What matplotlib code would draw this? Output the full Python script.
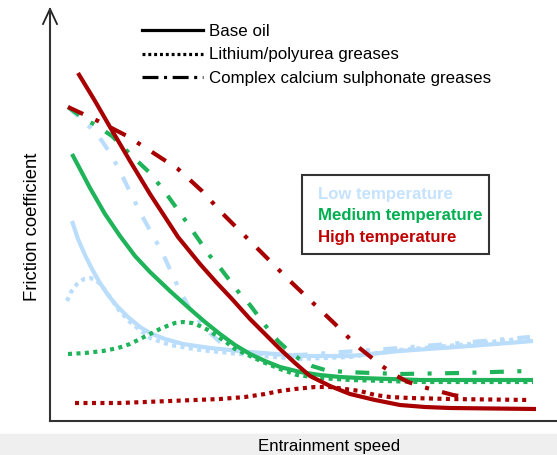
import matplotlib
matplotlib.use("Agg")
import matplotlib.pyplot as plt
from matplotlib.patches import Rectangle

plt.rcParams['font.family'] = ['Liberation Sans', 'DejaVu Sans']
plt.rcParams['lines.scale_dashes'] = False

# colours for the three temperatures
blue = '#b9ddfb'
green = '#1fb35a'
red = '#a80000'

# base oil (solid)
low_base_x = [22, 28, 35, 42, 50, 58, 67, 78, 90, 100, 115, 133, 160, 200, 250, 300, 350, 420, 483]
low_base_y = [200, 182, 166, 152, 138, 126, 115, 104, 94, 88, 82, 77, 73, 69, 65, 65, 70, 75, 80]
med_base_x = [22, 30, 40, 55, 70, 85, 100, 120, 140, 155, 170, 185, 200, 215, 230, 250, 270, 290,
              310, 370, 483]
med_base_y = [267, 252, 233, 207, 185, 165, 149, 130, 112, 99, 87, 76, 67, 60, 54, 49, 46, 44,
              43, 41, 41]
high_base_x = [28, 45, 60, 80, 100, 115, 128, 150, 166, 182, 200, 215, 230, 245, 260, 280, 300,
               325, 350, 375, 400, 486]
high_base_y = [348, 320, 294, 260, 227, 204, 184, 157, 139, 122, 102, 87, 72, 58, 45, 35, 27,
               21, 16, 14, 13, 12]

# lithium/polyurea greases (dotted)
low_li_x = [17, 21, 27, 34, 40, 46, 52, 60, 68, 80, 100, 120, 150, 200, 250, 300, 350, 420, 480]
low_li_y = [120, 129, 137, 142, 143, 141, 135, 124, 112, 99, 83, 76, 71, 66, 62, 64, 71, 77, 83]
med_li_x = [18, 35, 53, 68, 80, 90, 100, 110, 117, 125, 133, 142, 150, 158, 167, 176, 185, 200,
            213, 230, 247, 270, 300, 370, 483]
med_li_y = [67, 68, 70, 73, 77, 82, 87, 92, 95, 98, 99, 98, 95, 91, 85, 79, 72, 65,
            59, 52, 46, 43, 41, 39, 39]
high_li_x = [25, 70, 120, 170, 195, 215, 230, 245, 265, 280, 295, 310, 325, 340, 360, 400, 480]
high_li_y = [18, 18, 20, 22, 24, 27, 30, 32, 34, 34, 32, 30, 26, 24, 23, 22, 21]

# complex calcium sulphonate greases (dash-dot)
low_cx_x = [18, 30, 43, 52, 60, 70, 80, 91, 101, 113, 122, 130, 140, 150, 160, 170, 185, 210,
            250, 350, 480]
low_cx_y = [314, 303, 291, 280, 268, 250, 229, 207, 189, 167, 147, 130, 112, 99, 88, 79, 71, 67,
            66, 73, 84]
med_cx_x = [18, 33, 47, 62, 72, 83, 100, 115, 133, 142, 160, 171, 190, 200, 218, 228, 240, 252,
            262, 275, 295, 350, 410, 477]
med_cx_y = [314, 303, 295, 285, 275, 264, 248, 229, 204, 191, 165, 152, 127, 116, 92, 80, 69, 60,
            55, 51, 49, 47, 48, 50]
high_cx_x = [18, 48, 77, 102, 128, 152, 173, 195, 218, 240, 262, 285, 307, 332, 345, 358, 373,
             388, 403, 420]
high_cx_y = [314, 300, 285, 269, 252, 230, 207, 185, 162, 140, 119, 97, 75, 55, 46, 39, 34,
             30, 26, 23]

W, H = 557, 456
fig = plt.figure(figsize=(W / 100, H / 100), dpi=100)
fig.patches.append(Rectangle((0, 0), 1, 21 / H, transform=fig.transFigure,
                             color='#efefef', zorder=0))

ax = fig.add_axes([50 / W, 34 / H, 507 / W, 410 / H])
ax.set_xlim(0, 507)
ax.set_ylim(0, 410)
ax.patch.set_alpha(0)
for s in ['top', 'right']:
    ax.spines[s].set_visible(False)
for s in ['left', 'bottom']:
    ax.spines[s].set_color('#333333')
    ax.spines[s].set_linewidth(1.5)
ax.spines['left'].set_bounds(0, 412)
ax.set_xticks([])
ax.set_yticks([])

dot = (0, (2.9, 3.2))
dd_red = (0, (12, 9.7, 2.9, 9.7))
dd_grn = (0, (10, 9.7, 2.9, 9.7))

series = [
    (low_cx_x, low_cx_y, blue, dd_grn),
    (low_li_x, low_li_y, blue, dot),
    (low_base_x, low_base_y, blue, '-'),
    (med_cx_x, med_cx_y, green, dd_grn),
    (med_li_x, med_li_y, green, dot),
    (med_base_x, med_base_y, green, '-'),
    (high_li_x, high_li_y, red, dot),
    (high_cx_x, high_cx_y, red, dd_red),
    (high_base_x, high_base_y, red, '-'),
]
for x, y, c, ls in series:
    ax.plot(x, y, color=c, linestyle=ls, linewidth=3, solid_capstyle='butt',
            dash_capstyle='butt', solid_joinstyle='round', clip_on=False)

# open arrow head on the y axis
ax.plot([-7, 0, 7], [397, 412, 397], color='#222222', linewidth=1.3, clip_on=False)


def fx(px):
    return px / W


def fy(py):
    return 1 - py / H


# legend for line styles (drawn by hand)
styles = [('-', 'Base oil', 31), ((0, (2.1, 2.1)), 'Lithium/polyurea greases', 55),
          ((0, (11.5, 4, 2.2, 4)), 'Complex calcium sulphonate greases', 78)]
for ls, label, py in styles:
    fig.add_artist(plt.Line2D([fx(142), fx(203)], [fy(py), fy(py)], color='black',
                              linestyle=ls, linewidth=2.3, transform=fig.transFigure,
                              dash_capstyle='butt'))
    fig.text(fx(209), fy(py), label, fontsize=12.2, va='center', ha='left')

# temperature box
fig.patches.append(Rectangle((fx(302), fy(255)), (489 - 302) / W, (255 - 176) / H,
                             transform=fig.transFigure, facecolor='white',
                             edgecolor='#333333', linewidth=1.5, zorder=3))
for label, c, py in [('Low temperature', '#c5e2ff', 195),
                     ('Medium temperature', '#00b050', 216),
                     ('High temperature', '#c00000', 238)]:
    fig.text(fx(318), fy(py), label, color=c, fontsize=12.1, fontweight='bold',
             va='center', ha='left', zorder=4)

fig.text(fx(33), fy(227), 'Friction coefficient', rotation=90, fontsize=13.3,
         va='center', ha='center')
fig.text(fx(329), fy(447), 'Entrainment speed', fontsize=12.2, va='center', ha='center')

fig.savefig('out.png', dpi=100)
